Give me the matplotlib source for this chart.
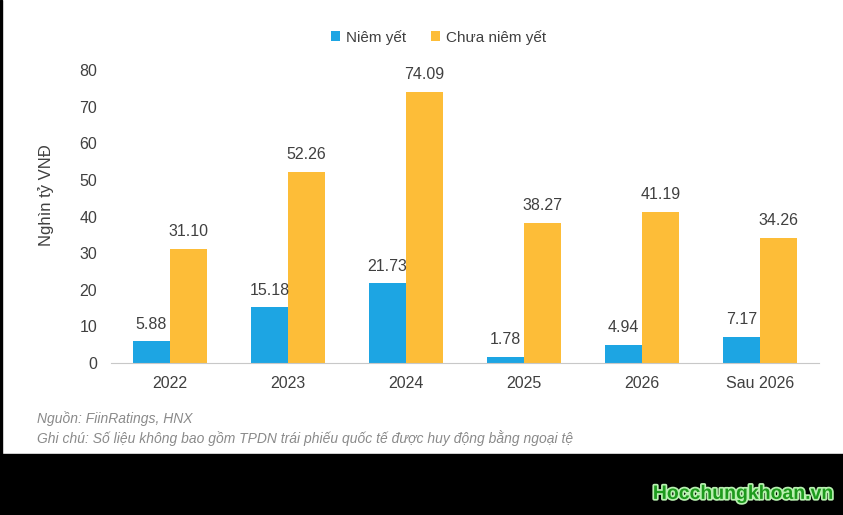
import matplotlib.pyplot as plt
import matplotlib.patheffects as pe
from matplotlib.patches import Rectangle
import numpy as np

plt.rcParams['font.family'] = ['Liberation Sans', 'DejaVu Sans']

# data
years      = ['2022', '2023', '2024', '2025', '2026', 'Sau 2026']
niem_yet   = [5.88, 15.18, 21.73, 1.78, 4.94, 7.17]
chua_niem  = [31.10, 52.26, 74.09, 38.27, 41.19, 34.26]

BLUE   = '#1DA5E3'
ORANGE = '#FDBD38'
TXT    = '#404040'

fig = plt.figure(figsize=(8.43, 5.15), dpi=100)
ax  = fig.add_axes([0.1317, 0.2951, 0.9715 - 0.1317, 0.864 - 0.2951])

x  = np.arange(len(years))
bw = 0.315
b1 = ax.bar(x - bw/2, niem_yet, bw, color=BLUE, label='Niêm yết')
b2 = ax.bar(x + bw/2, chua_niem, bw, color=ORANGE, label='Chưa niêm yết')

for bars, vals in [(b1, niem_yet), (b2, chua_niem)]:
    for b, v in zip(bars, vals):
        ax.annotate('%.2f' % v, xy=(b.get_x() + b.get_width()/2, v),
                    xytext=(0, 7), textcoords='offset points',
                    ha='center', va='bottom', fontsize=11.5, color=TXT,
                    annotation_clip=False)

ax.set_xlim(-0.5, 5.5)
ax.set_ylim(0, 80)
ax.set_yticks(range(0, 81, 10))
ax.set_xticks(x)
ax.set_xticklabels(years)
ax.tick_params(axis='both', length=0, labelsize=11.5, labelcolor=TXT)
ax.tick_params(axis='x', pad=9)
ax.tick_params(axis='y', pad=10)
for s in ['top', 'right', 'left']:
    ax.spines[s].set_visible(False)
ax.spines['bottom'].set_color('#c8c8c8')
ax.set_ylabel('Nghìn tỷ VNĐ', fontsize=12, color=TXT)
ax.yaxis.set_label_coords(-0.08, 0.573)

fig.legend(loc='center', bbox_to_anchor=(0.52, 0.928), ncol=2, frameon=False,
           fontsize=11, handlelength=0.6, handleheight=0.6, handletextpad=0.4,
           columnspacing=1.6, labelcolor=TXT)

fig.text(0.044, 0.178, 'Nguồn: FiinRatings, HNX', fontsize=10, style='italic',
         color='#8a8a8a')
fig.text(0.044, 0.140,
         'Ghi chú: Số liệu không bao gồm TPDN trái phiếu quốc tế được huy động bằng ngoại tệ',
         fontsize=10, style='italic', color='#8a8a8a')

# black band and left border
fig.patches.append(Rectangle((0, 0), 1, 61/515, transform=fig.transFigure,
                             color='black', zorder=0))
fig.patches.append(Rectangle((0, 0), 2/843, 1, transform=fig.transFigure,
                             color='black', zorder=0))
fig.text(0.882, 0.040, 'Hocchungkhoan.vn', fontsize=14, fontweight='bold',
         color='#1d9a1d', ha='center', va='center',
         path_effects=[pe.withStroke(linewidth=2.5, foreground='#b8f0b0')])

fig.savefig('out.png', dpi=100)
